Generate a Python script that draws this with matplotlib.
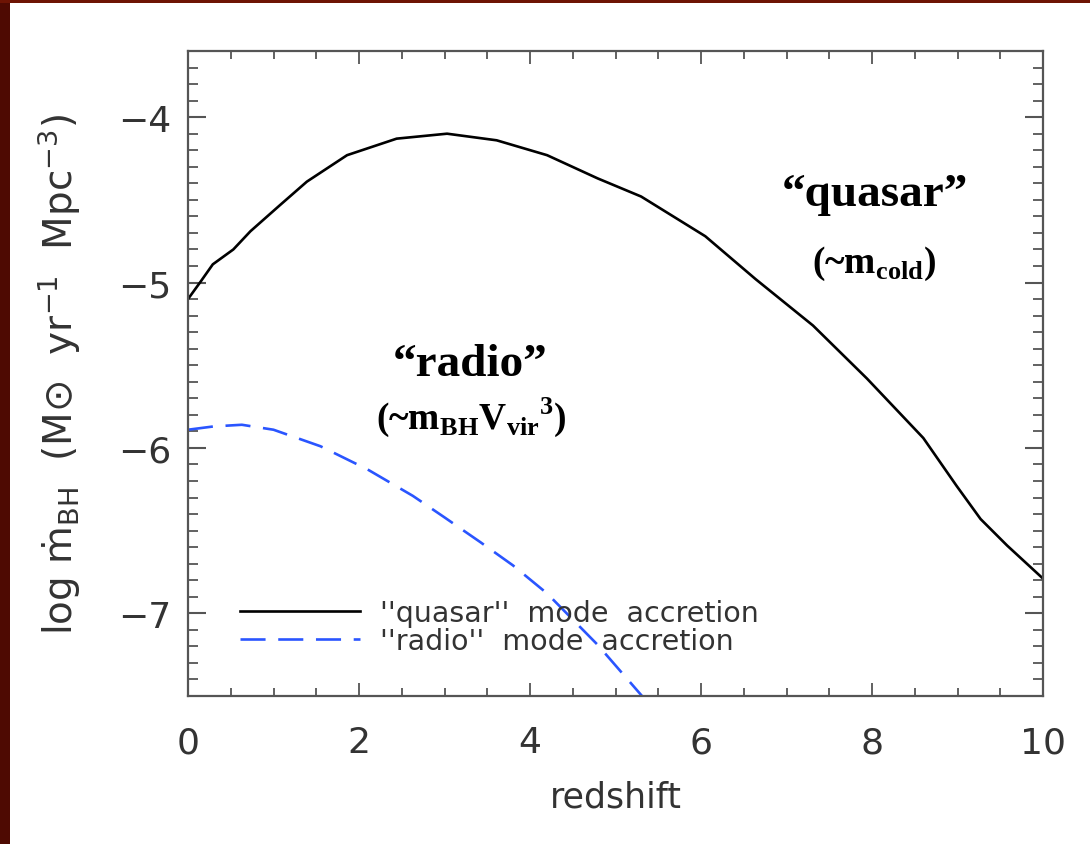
import matplotlib
import matplotlib.pyplot as plt
from matplotlib.patches import Rectangle
from matplotlib.ticker import MultipleLocator

matplotlib.use("Agg")

# mathtext: \rm -> sans (y label), \bf -> serif bold (annotations)
plt.rcParams["mathtext.fontset"] = "custom"
plt.rcParams["mathtext.rm"] = "DejaVu Sans"
plt.rcParams["mathtext.it"] = "DejaVu Sans:italic"
plt.rcParams["mathtext.bf"] = "Liberation Serif:bold"

# data
z_quasar = [0.0, 0.14, 0.29, 0.53, 0.73, 1.08, 1.39, 1.86, 2.44, 3.03, 3.61,
            4.2, 4.79, 5.3, 6.05, 6.64, 7.31, 7.94, 8.6, 8.99, 9.27, 9.58, 10.0]
mdot_quasar = [-5.10, -5.00, -4.89, -4.80, -4.69, -4.53, -4.39, -4.23, -4.13,
               -4.10, -4.14, -4.23, -4.37, -4.48, -4.72, -4.98, -5.26, -5.58,
               -5.94, -6.23, -6.43, -6.59, -6.79]

z_radio = [0.0, 0.3, 0.63, 1.0, 1.55, 2.1, 2.63, 3.0, 3.42, 3.8, 4.2, 4.79, 5.31]
mdot_radio = [-5.89, -5.87, -5.86, -5.89, -5.99, -6.13, -6.29, -6.42, -6.57,
              -6.71, -6.88, -7.19, -7.50]

fig = plt.figure(figsize=(10.9, 8.45), dpi=100)
fig.patch.set_facecolor("white")
# dark red slide border (left and top)
fig.patches.append(Rectangle((0, 0), 10 / 1090, 1, transform=fig.transFigure,
                             facecolor="#4e0a02", edgecolor="none", zorder=-10))
fig.patches.append(Rectangle((0, 1 - 4 / 845), 1, 4 / 845, transform=fig.transFigure,
                             facecolor="#6e1404", edgecolor="none", zorder=-10))

ax = fig.add_axes([188 / 1090, 1 - 697 / 845, (1043 - 188) / 1090, (697 - 52) / 845])
ax.set_zorder(1)
ax.set_facecolor("white")

ax.plot(z_quasar, mdot_quasar, color="black", lw=1.9,
        label="''quasar''  mode  accretion")
ax.plot(z_radio, mdot_radio, color="#2a55ff", lw=1.9, dashes=(9.5, 4.8),
        label="''radio''  mode  accretion")

ax.set_xlim(0, 10)
ax.set_ylim(-7.5, -3.6)
ax.xaxis.set_major_locator(MultipleLocator(2))
ax.xaxis.set_minor_locator(MultipleLocator(0.5))
ax.yaxis.set_major_locator(MultipleLocator(1))
ax.yaxis.set_minor_locator(MultipleLocator(0.1))

ax.tick_params(which="both", direction="in", top=True, right=True,
               color="#555555", labelcolor="#333333", labelsize=26)
ax.tick_params(axis="x", which="major", length=9.5, width=1.3, pad=21)
ax.tick_params(axis="x", which="minor", length=5.5, width=1.3)
ax.tick_params(axis="y", which="major", length=13, width=1.5, pad=12)
ax.tick_params(axis="y", which="minor", length=7, width=1.3)
for s in ax.spines.values():
    s.set_color("#555555")
    s.set_linewidth(1.6)

ax.set_xlabel("redshift", fontsize=25, color="#333333", labelpad=15)
ax.set_ylabel("log ṁ$_{\\rm BH}$  (M⊙  yr$^{-1}$  Mpc$^{-3}$)", fontsize=28,
              color="#333333", labelpad=25)

ax.legend(loc="upper left", bbox_to_anchor=(0.061, 0.151), frameon=False,
          borderpad=0, borderaxespad=0, fontsize=20.5, handlelength=4.2,
          handletextpad=0.7, labelspacing=0.0, labelcolor="#333333")

serif = dict(transform=ax.transAxes, ha="center", va="center",
             family="Liberation Serif", fontweight="bold")
ax.text(0.803, 0.778, "“quasar”", fontsize=34, **serif)
ax.text(0.803, 0.672, r"(~m$_{\mathbf{cold}}$)", fontsize=27, **serif)
ax.text(0.330, 0.515, "“radio”", fontsize=34, **serif)
ax.text(0.331, 0.433, r"(~m$_{\mathbf{BH}}$V$_{\mathbf{vir}}{}^{\mathbf{3}}$)",
        fontsize=27, **serif)

fig.savefig("out.png", dpi=100, facecolor=fig.get_facecolor())
